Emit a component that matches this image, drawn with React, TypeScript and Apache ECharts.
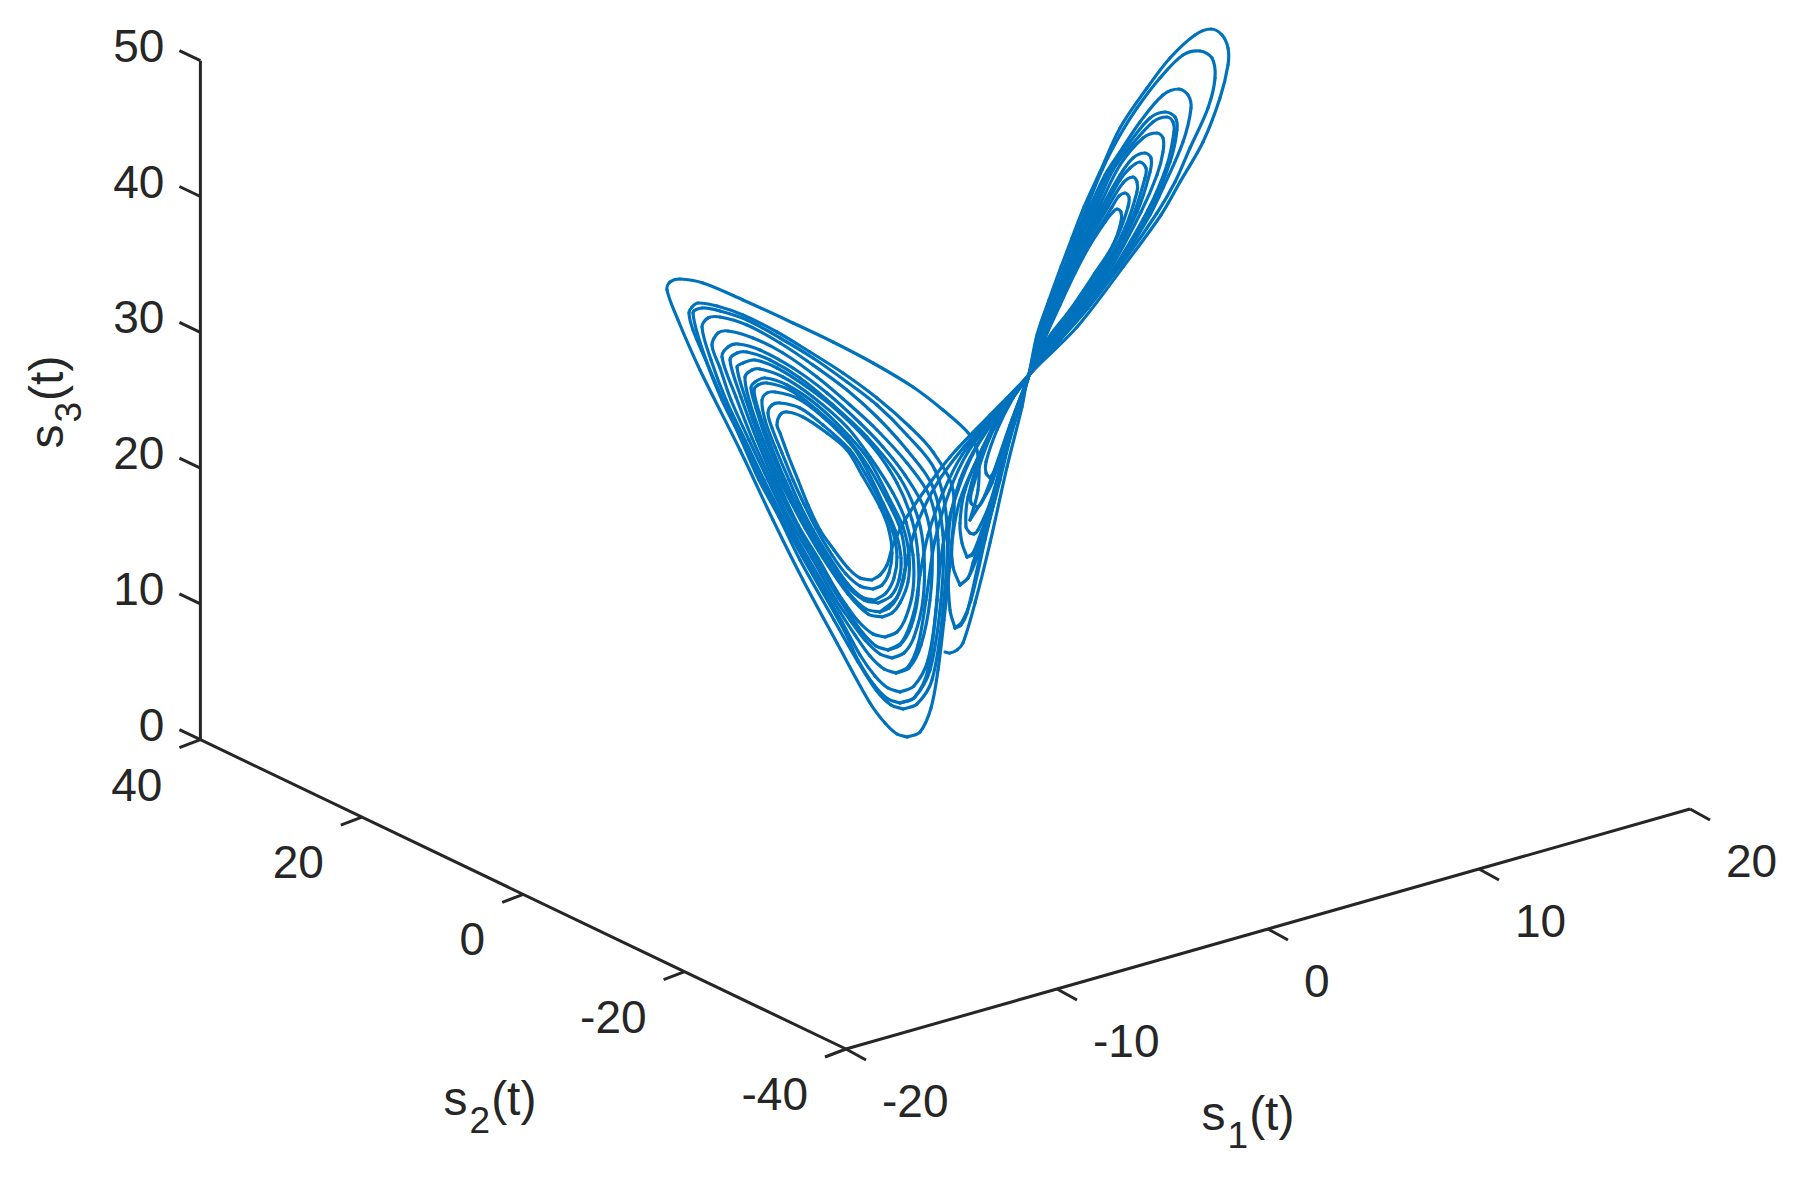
import React, { useEffect, useRef } from "react";
import * as echarts from "echarts";

// tick labels
const s1Ticks = [-20, -10, 0, 10, 20];
const s2Ticks = [-40, -20, 0, 20, 40];
const s3Ticks = [0, 10, 20, 30, 40, 50];

// trajectory, in view-plane units (one unit = one picture pixel)
const left14 = [[872,580],[860,578],[848,568],[834,550],[820,530],[808,505],[798,480],[788,455],[780,433],[777,425],[780,415],[787,412],[803,417],[827,433],[847,450],[862,475],[880,507],[889,530],[892,553],[889,573],[882,585],[873,589]];
const left13 = [[873,589],[860,586],[846,574],[832,555],[816,528],[804,504],[793,480],[782,453],[772,428],[768,413],[772,405],[780,403],[800,408],[823,425],[850,450],[866,475],[882,505],[893,532],[897,557],[894,578],[886,593],[875,600]];
const left12 = [[875,600],[862,597],[847,583],[830,558],[813,530],[800,505],[789,480],[775,447],[765,420],[762,400],[767,393],[775,392],[797,398],[823,417],[853,447],[868,472],[883,503],[895,530],[901,558],[899,580],[891,596],[878,603]];
const left11 = [[878,603],[864,600],[847,586],[828,558],[810,530],[796,503],[785,480],[770,443],[759,412],[754,390],[758,385],[767,383],[790,390],[817,410],[847,438],[868,466],[887,500],[900,528],[905,555],[904,578],[897,598],[889,608],[880,612]];
const left10 = [[880,612],[866,609],[848,592],[826,560],[808,530],[794,503],[783,480],[767,442],[756,408],[751,388],[755,382],[765,378],[787,385],[817,405],[850,437],[870,462],[890,500],[903,527],[909,555],[908,582],[900,603],[892,613],[882,617]];
const left09 = [[882,617],[868,614],[848,594],[823,558],[805,528],[791,502],[780,480],[763,440],[750,403],[745,377],[752,370],[760,369],[783,377],[813,397],[847,427],[870,457],[893,493],[906,522],[913,555],[913,590],[906,617],[897,632],[885,637]];
const left08 = [[885,637],[873,634],[858,621],[846,605],[835,588],[818,558],[798,525],[777,480],[760,440],[746,400],[737,367],[743,363],[755,360],[777,368],[807,387],[840,413],[873,447],[897,483],[912,520],[918,555],[918,595],[911,627],[900,645],[888,650]];
const left07 = [[888,650],[876,646],[862,632],[850,615],[838,597],[815,558],[795,523],[774,480],[757,440],[741,397],[730,360],[737,353],[747,352],[770,360],[800,378],[833,405],[867,437],[900,478],[918,518],[924,555],[923,600],[914,637],[904,653],[892,658]];
const left06 = [[892,658],[880,654],[865,640],[850,620],[836,600],[812,558],[791,522],[771,480],[752,438],[736,397],[722,357],[728,347],[738,344],[760,350],[793,368],[827,393],[860,423],[883,447],[905,475],[925,510],[932,550],[930,600],[921,645],[909,668],[896,673]];
const left05 = [[896,673],[884,669],[870,656],[855,635],[840,612],[808,558],[788,522],[768,480],[749,440],[731,400],[720,368],[712,345],[718,333],[728,331],[753,338],[783,353],[817,377],[850,405],[877,430],[907,463],[930,497],[938,540],[937,600],[928,660],[914,686],[900,692]];
const left04 = [[900,692],[888,688],[875,676],[860,655],[842,622],[805,558],[784,520],[764,480],[745,440],[726,400],[711,360],[702,327],[708,318],[720,317],[747,325],[780,343],[813,365],[847,390],[877,417],[907,450],[932,485],[943,535],[941,600],[930,670],[914,698],[900,703]];
const left03 = [[900,703],[888,699],[874,685],[858,660],[844,630],[802,556],[781,517],[761,480],[742,440],[722,400],[706,360],[693,313],[702,308],[720,311],[747,320],[780,338],[813,358],[847,382],[877,405],[907,435],[935,470],[947,525],[943,610],[932,680],[917,704],[903,709]];
const left02 = [[903,709],[891,705],[876,690],[858,662],[834,620],[800,560],[779,517],[759,480],[740,437],[723,400],[707,363],[693,330],[689,313],[692,307],[698,303],[717,306],[743,315],[777,332],[810,352],[843,373],[877,398],[910,427],[933,452],[953,490],[951,550],[944,620],[938,670],[931,708],[920,732],[907,737]];
const left01 = [[907,737],[897,734],[885,723],[870,703],[837,643],[803,580],[773,520],[740,450],[700,370],[678,320],[667,290],[670,282],[680,279],[703,283],[743,300],[793,323],[833,342],[873,363],[913,387],[943,410],[970,435],[978,455],[978,490],[970,520]];

const rise1 = [[945,652],[950,653],[957,650],[963,643],[975,603],[990,543],[1007,467],[1022,407],[1028,378]];
const rise2 = [[955,628],[961,625],[967,613],[980,557],[1000,480],[1017,410],[1028,378]];
const rise3 = [[960,585],[968,578],[973,563],[990,507],[1007,443],[1028,378]];
const rise4 = [[967,557],[972,555],[978,547],[990,510],[1010,430],[1028,378]];
const rise5 = [[970,533],[974,534],[978,530],[990,503],[1012,425],[1028,378]];
const rise6 = [[977,507],[980,505],[983,500],[992,483],[1012,420],[1028,378]];
const rise7 = [[990,478],[992,475],[995,470],[1004,450],[1016,410],[1028,378]];
const riseA = [[960,585],[968,578],[976,560],[992,510],[1009,440],[1028,378]];
const riseB = [[955,628],[962,622],[971,600],[985,540],[1004,460],[1028,378]];
const riseC = [[967,557],[973,553],[982,530],[996,490],[1012,430],[1028,378]];
const riseD = [[970,520],[985,495],[1010,425],[1028,378]];

const right11 = [[1044,340],[1060,305],[1075,273],[1090,245],[1105,222],[1113,212],[1117,209],[1121,212],[1121,222],[1113,245],[1095,273],[1070,310],[1047,340],[1028,376]];
const right10 = [[1044,340],[1058,305],[1073,273],[1092,240],[1112,207],[1119,196],[1125,193],[1129,197],[1128,207],[1118,235],[1098,273],[1073,310],[1049,340],[1028,376]];
const right09 = [[1043,340],[1057,305],[1071,273],[1089,240],[1108,207],[1123,183],[1133,177],[1137,182],[1137,192],[1125,228],[1101,273],[1076,310],[1051,340],[1028,376]];
const right08 = [[1043,340],[1056,305],[1070,273],[1087,240],[1105,207],[1120,180],[1130,168],[1140,162],[1146,168],[1145,178],[1132,218],[1103,273],[1078,310],[1052,340],[1028,376]];
const right07 = [[1042,340],[1055,305],[1068,273],[1085,240],[1102,207],[1120,175],[1133,158],[1145,153],[1151,158],[1150,172],[1137,212],[1105,273],[1080,310],[1054,340],[1028,376]];
const right06 = [[1041,340],[1054,305],[1067,273],[1083,240],[1099,207],[1120,165],[1143,138],[1157,133],[1163,138],[1163,152],[1157,175],[1141,212],[1108,273],[1082,310],[1055,340],[1028,376]];
const right05 = [[1040,340],[1052,305],[1065,273],[1080,240],[1096,207],[1113,170],[1130,147],[1153,122],[1167,117],[1173,122],[1174,132],[1167,165],[1148,210],[1111,273],[1084,310],[1057,340],[1028,376]];
const right04 = [[1039,340],[1051,305],[1064,273],[1078,240],[1093,207],[1110,170],[1130,142],[1150,118],[1165,112],[1175,117],[1177,130],[1170,162],[1151,208],[1113,273],[1086,310],[1058,340],[1028,376]];
const right03 = [[1038,340],[1050,305],[1063,273],[1076,240],[1090,207],[1105,175],[1120,152],[1140,122],[1163,95],[1179,89],[1188,95],[1191,108],[1183,142],[1163,188],[1150,215],[1116,270],[1088,308],[1060,340],[1028,376]];
const right02 = [[1037,340],[1049,305],[1062,273],[1074,240],[1087,207],[1102,170],[1120,135],[1137,108],[1160,78],[1183,55],[1200,51],[1212,58],[1215,78],[1208,108],[1190,148],[1175,182],[1157,213],[1120,266],[1073,325],[1028,376]];
const right01 = [[1037,335],[1049,300],[1061,267],[1072,238],[1084,207],[1100,172],[1120,128],[1147,88],[1170,58],[1195,35],[1211,29],[1222,35],[1228,48],[1228,65],[1220,98],[1203,142],[1180,182],[1161,215],[1123,267],[1077,327],[1028,376]];

const fall2 = [[1000,410],[977,445],[960,480],[950,520],[948,567],[950,610],[955,628]];
const fall3 = [[1003,408],[977,460],[960,500],[952,543],[953,567],[960,585]];
const fall4 = [[1005,408],[983,447],[965,490],[960,523],[962,543],[967,557]];
const fall5 = [[1008,405],[985,445],[968,497],[966,527],[970,533]];
const fall6 = [[1010,402],[990,437],[972,490],[971,503],[977,507]];
const fall7 = [[1013,398],[997,430],[986,462],[986,473],[990,478]];
const enter14 = [[990,415],[950,457],[925,490],[905,520],[893,545],[887,565],[880,575],[872,580]];
const enter10 = [[992,415],[955,458],[932,492],[915,530],[905,570],[897,597],[880,612]];
const enter07 = [[994,415],[962,455],[942,495],[928,535],[920,575],[914,612],[902,642],[888,650]];
const enter05 = [[996,415],[968,452],[950,490],[935,540],[926,600],[918,645],[908,667],[896,673]];
const enter03 = [[998,415],[975,450],[958,490],[943,545],[936,610],[928,670],[915,697],[900,703]];

const trajectory = [
  [...rise1, ...right11, ...fall7],
  [...rise7, ...right10, ...fall6],
  [...rise6, ...right09, ...fall5],
  [...rise5, ...right08, ...fall4],
  [...rise4, ...right07, ...fall3],
  [...rise3, ...right06, ...fall2],
  [...rise2, ...right05, ...enter14],
  left14, left13, left12, left11, left10, left09, left08, left07, left06, left05, left04, left03, left02, left01,
  [...riseD, ...right04, ...enter10],
  [...riseA, ...right03, ...enter07],
  [...riseB, ...right02, ...enter05],
  [...riseC, ...right01, ...enter03],
];

const INK = "#262626";
const BLUE = "#0072BD";
const FONT = "Liberation Sans";
const TICK_SIZE = 46;

// orthographic view of the 3-D box
const project = (s1: number, s2: number, s3: number): number[] => [
  846 + (s1 + 20) * 21.1 - (s2 + 40) * 8.07,
  1049 - (s1 + 20) * 6 - (s2 + 40) * 3.866 - s3 * 13.58,
];

// one spline segment per read point, through the chart's own coordinate system
const curveSeries = (arc: number[][]) => ({
  type: "custom",
  coordinateSystem: "cartesian2d",
  silent: true,
  clip: false,
  data: arc,
  encode: { x: 0, y: 1 },
  renderItem: (params: any, api: any) => {
    const i = params.dataIndex;
    if (i >= arc.length - 1) return null;
    const p0 = api.coord(arc[Math.max(i - 1, 0)]);
    const p1 = api.coord(arc[i]);
    const p2 = api.coord(arc[i + 1]);
    const p3 = api.coord(arc[Math.min(i + 2, arc.length - 1)]);
    const d = (a: number[], b: number[]) => Math.hypot(a[0] - b[0], a[1] - b[1]);
    const d01 = d(p0, p1), d12 = d(p1, p2), d23 = d(p2, p3);
    const tan1 = d01 + d12 > 0 ? [(p2[0] - p0[0]) / (d01 + d12), (p2[1] - p0[1]) / (d01 + d12)] : [0, 0];
    const tan2 = d12 + d23 > 0 ? [(p3[0] - p1[0]) / (d12 + d23), (p3[1] - p1[1]) / (d12 + d23)] : [0, 0];
    return {
      type: "bezierCurve",
      shape: {
        x1: p1[0], y1: p1[1], x2: p2[0], y2: p2[1],
        cpx1: p1[0] + (tan1[0] * d12) / 3, cpy1: p1[1] + (tan1[1] * d12) / 3,
        cpx2: p2[0] - (tan2[0] * d12) / 3, cpy2: p2[1] - (tan2[1] * d12) / 3,
      },
      style: { stroke: BLUE, lineWidth: 3.2, fill: "none", lineCap: "round" },
    };
  },
});

const axisLine = (a: number[], b: number[]) => ({
  type: "line", data: [a, b], showSymbol: false, silent: true,
  lineStyle: { color: INK, width: 3 },
});
const tickMark = (p: number[], dx: number, dy: number) => axisLine(p, [p[0] + dx, p[1] + dy]);
const labels = (pts: number[][], texts: string[], align: string, fontSize: number, extra: any = {}) => ({
  type: "scatter", symbolSize: 0, silent: true, itemStyle: { opacity: 1 },
  data: pts.map((p, i) => ({ value: p, name: texts[i] })),
  label: {
    show: true, position: "inside", formatter: (d: any) => d.name, align, verticalAlign: "middle",
    color: INK, fontFamily: FONT, fontSize, opacity: 1, ...extra,
  },
});
const titleRich = {
  b: { fontFamily: FONT, fontSize: 48, color: INK },
  s: { fontFamily: FONT, fontSize: 37, color: INK, padding: [44, 1, 0, 2] },
};

export default function App() {
  const ref = useRef<HTMLDivElement>(null);
  useEffect(() => {
    const chart = echarts.init(ref.current!, null, { renderer: "svg" });
    const series: any[] = [
      ...trajectory.map(curveSeries),
      axisLine(project(-20, -40, 0), project(20, -40, 0)),
      axisLine(project(-20, -40, 0), project(-20, 40, 0)),
      axisLine(project(-20, 40, 0), project(-20, 40, 50)),
      ...s1Ticks.map((t) => tickMark(project(t, -40, 0), 20, 11)),
      ...s2Ticks.map((t) => tickMark(project(-20, t, 0), -21, 8)),
      ...s3Ticks.map((t) => tickMark(project(-20, 40, t), -21, -10)),
      labels(s1Ticks.map((t) => { const p = project(t, -40, 0); return [p[0] + 36, p[1] + 52]; }), s1Ticks.map(String), "left", TICK_SIZE),
      labels(s2Ticks.map((t) => { const p = project(-20, t, 0); return [p[0] - 38, p[1] + 45]; }), s2Ticks.map(String), "right", TICK_SIZE),
      labels(s3Ticks.map((t) => { const p = project(-20, 40, t); return [p[0] - 36, p[1] - 15]; }), s3Ticks.map(String), "right", TICK_SIZE),
      labels([[1248, 1113]], ["{b|s}{s|1}{b|(t)}"], "center", TICK_SIZE, { rich: titleRich }),
      labels([[490, 1098]], ["{b|s}{s|2}{b|(t)}"], "center", TICK_SIZE, { rich: titleRich }),
      labels([[46, 402]], ["{b|s}{s|3}{b|(t)}"], "center", TICK_SIZE, { rich: titleRich, rotate: 90 }),
    ];
    chart.setOption({
      animation: false,
      backgroundColor: "#ffffff",
      grid: { left: 0, right: 0, top: 0, bottom: 0 },
      xAxis: { type: "value", min: 0, max: 1800, show: false },
      yAxis: { type: "value", min: 0, max: 1183, inverse: true, show: false },
      series,
    });
    return () => chart.dispose();
  }, []);
  return <div ref={ref} style={{ position: "absolute", left: 0, top: 0, width: 1800, height: 1183 }} />;
}
